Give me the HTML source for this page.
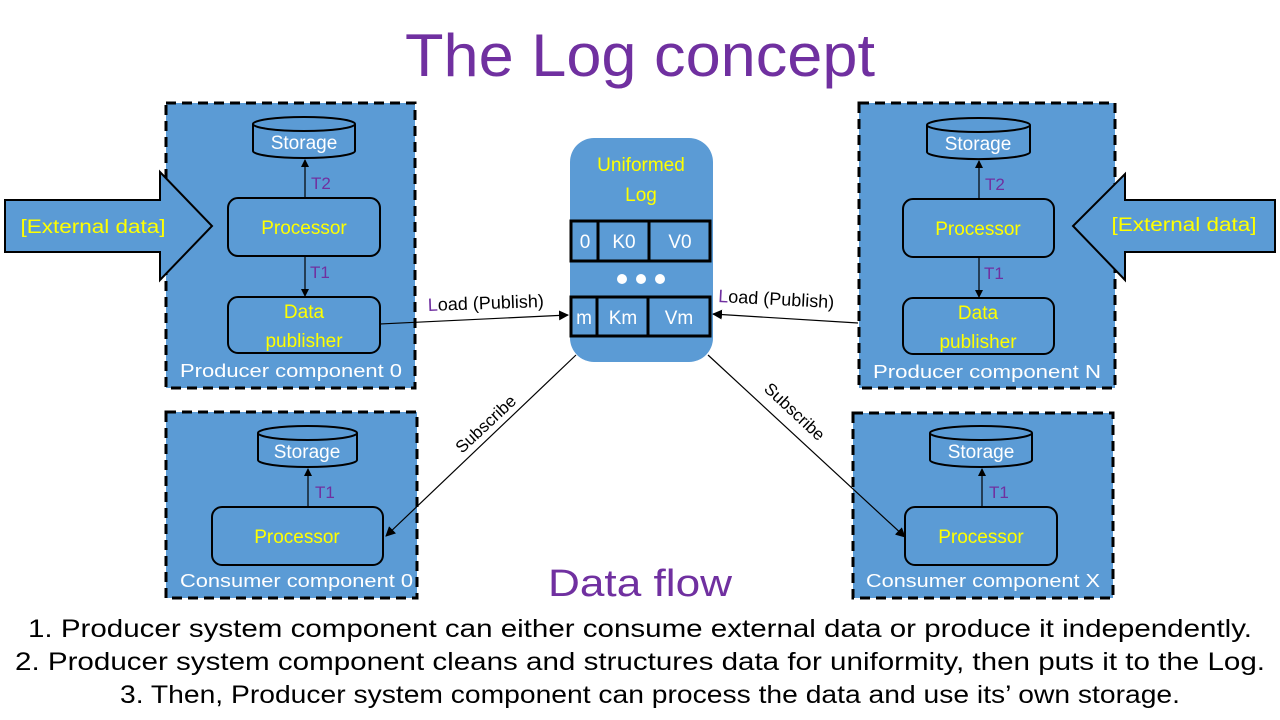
<!DOCTYPE html>
<html><head><meta charset="utf-8"><style>
html,body{margin:0;padding:0;background:#fff;}
svg{display:block;font-family:"Liberation Sans",sans-serif;}
</style></head><body>
<svg width="1280" height="720" viewBox="0 0 1280 720" xmlns="http://www.w3.org/2000/svg">
<defs>
<marker id="ah" markerWidth="10" markerHeight="10" refX="9" refY="5" orient="auto" markerUnits="userSpaceOnUse"><path d="M0,0 L10,5 L0,10 z" fill="#000"/></marker>
<marker id="as" markerWidth="8" markerHeight="8" refX="7" refY="4" orient="auto" markerUnits="userSpaceOnUse"><path d="M0,0 L8,4 L0,8 z" fill="#000"/></marker>
</defs>
<text x="640" y="76" text-anchor="middle" font-size="60" fill="#7030A0" textLength="470" lengthAdjust="spacingAndGlyphs">The Log concept</text>

<!-- Producer 0 -->
<rect x="166" y="103" width="249" height="285" fill="#5B9BD5" stroke="#000" stroke-width="3" stroke-dasharray="10,6"/>
<path d="M5,200 H160 V172 L212,226 L160,280 V252 H5 Z" fill="#5B9BD5" stroke="#000" stroke-width="2"/>
<text x="93" y="233" text-anchor="middle" font-size="19" fill="#FFFF00" textLength="145" lengthAdjust="spacingAndGlyphs">[External data]</text>
<g>
<path d="M253,124 V151 A51,7 0 0 0 355,151 V124" fill="#5B9BD5" stroke="#000" stroke-width="2"/>
<ellipse cx="304" cy="124" rx="51" ry="7" fill="#5B9BD5" stroke="#000" stroke-width="2"/>
<text x="304" y="149" text-anchor="middle" font-size="19" fill="#fff">Storage</text>
</g>
<line x1="305" y1="198" x2="305" y2="160" stroke="#000" stroke-width="1.2" marker-end="url(#as)"/>
<text x="311" y="189" font-size="17" fill="#7030A0">T2</text>
<rect x="228" y="198" width="152" height="58" rx="10" fill="#5B9BD5" stroke="#000" stroke-width="2"/>
<text x="304" y="234" text-anchor="middle" font-size="19" fill="#FFFF00">Processor</text>
<line x1="305" y1="256" x2="305" y2="296" stroke="#000" stroke-width="1.2" marker-end="url(#as)"/>
<text x="310" y="278" font-size="17" fill="#7030A0">T1</text>
<rect x="228" y="297" width="152" height="56" rx="10" fill="#5B9BD5" stroke="#000" stroke-width="2"/>
<text x="304" y="318" text-anchor="middle" font-size="19" fill="#FFFF00">Data</text>
<text x="304" y="347" text-anchor="middle" font-size="19" fill="#FFFF00">publisher</text>
<text x="180" y="377" font-size="18" fill="#fff" textLength="222" lengthAdjust="spacingAndGlyphs">Producer component 0</text>

<!-- Producer N -->
<rect x="859" y="103" width="256" height="285" fill="#5B9BD5" stroke="#000" stroke-width="3" stroke-dasharray="10,6"/>
<path d="M1275,200 H1125 V174 L1073,226 L1125,280 V252 H1275 Z" fill="#5B9BD5" stroke="#000" stroke-width="2"/>
<text x="1184" y="231" text-anchor="middle" font-size="19" fill="#FFFF00" textLength="145" lengthAdjust="spacingAndGlyphs">[External data]</text>
<g>
<path d="M927,125 V152 A51,7 0 0 0 1030,152 V125" fill="#5B9BD5" stroke="#000" stroke-width="2"/>
<ellipse cx="978.5" cy="125" rx="51.5" ry="7" fill="#5B9BD5" stroke="#000" stroke-width="2"/>
<text x="978" y="150" text-anchor="middle" font-size="19" fill="#fff">Storage</text>
</g>
<line x1="979" y1="199" x2="979" y2="161" stroke="#000" stroke-width="1.2" marker-end="url(#as)"/>
<text x="985" y="190" font-size="17" fill="#7030A0">T2</text>
<rect x="903" y="199" width="151" height="58" rx="10" fill="#5B9BD5" stroke="#000" stroke-width="2"/>
<text x="978" y="235" text-anchor="middle" font-size="19" fill="#FFFF00">Processor</text>
<line x1="979" y1="257" x2="979" y2="297" stroke="#000" stroke-width="1.2" marker-end="url(#as)"/>
<text x="984" y="279" font-size="17" fill="#7030A0">T1</text>
<rect x="903" y="298" width="151" height="56" rx="10" fill="#5B9BD5" stroke="#000" stroke-width="2"/>
<text x="978" y="319" text-anchor="middle" font-size="19" fill="#FFFF00">Data</text>
<text x="978" y="348" text-anchor="middle" font-size="19" fill="#FFFF00">publisher</text>
<text x="873" y="378" font-size="18" fill="#fff" textLength="228" lengthAdjust="spacingAndGlyphs">Producer component N</text>

<!-- Log -->
<rect x="570" y="138" width="143" height="224" rx="24" fill="#5B9BD5"/>
<text x="641" y="171" text-anchor="middle" font-size="19" fill="#FFFF00">Uniformed</text>
<text x="641" y="201" text-anchor="middle" font-size="19" fill="#FFFF00">Log</text>
<g stroke="#000" stroke-width="3" fill="none">
<rect x="571" y="221" width="139" height="40"/>
<line x1="598" y1="221" x2="598" y2="261"/><line x1="649" y1="221" x2="649" y2="261"/>
<rect x="571" y="297" width="139" height="39"/>
<line x1="597" y1="297" x2="597" y2="336"/><line x1="648" y1="297" x2="648" y2="336"/>
</g>
<g font-size="19" fill="#fff" text-anchor="middle">
<text x="585" y="248">0</text><text x="624" y="248">K0</text><text x="680" y="248">V0</text>
<text x="584" y="324">m</text><text x="623" y="324">Km</text><text x="679" y="324">Vm</text>
</g>
<circle cx="622" cy="279" r="5" fill="#fff"/><circle cx="641" cy="279" r="5" fill="#fff"/><circle cx="660" cy="279" r="5" fill="#fff"/>

<!-- load arrows -->
<line x1="380" y1="324" x2="568" y2="315" stroke="#000" stroke-width="1.2" marker-end="url(#ah)"/>
<text x="428" y="311" font-size="18" fill="#000" transform="rotate(-2 428 311)"><tspan fill="#7030A0">L</tspan>oad (Publish)</text>
<line x1="858" y1="323" x2="713" y2="314" stroke="#000" stroke-width="1.2" marker-end="url(#ah)"/>
<text x="718" y="302" font-size="18" fill="#000" transform="rotate(3 718 302)"><tspan fill="#7030A0">L</tspan>oad (Publish)</text>

<!-- Consumer 0 -->
<rect x="166" y="412" width="251" height="186" fill="#5B9BD5" stroke="#000" stroke-width="3" stroke-dasharray="10,6"/>
<path d="M258,433 V460 A49.5,7 0 0 0 357,460 V433" fill="#5B9BD5" stroke="#000" stroke-width="2"/>
<ellipse cx="307.5" cy="433" rx="49.5" ry="7" fill="#5B9BD5" stroke="#000" stroke-width="2"/>
<text x="307" y="458" text-anchor="middle" font-size="19" fill="#fff">Storage</text>
<line x1="308" y1="507" x2="308" y2="469" stroke="#000" stroke-width="1.2" marker-end="url(#as)"/>
<text x="315" y="498" font-size="17" fill="#7030A0">T1</text>
<rect x="212" y="507" width="171" height="58" rx="10" fill="#5B9BD5" stroke="#000" stroke-width="2"/>
<text x="297" y="543" text-anchor="middle" font-size="19" fill="#FFFF00">Processor</text>
<text x="180" y="587" font-size="18" fill="#fff" textLength="233" lengthAdjust="spacingAndGlyphs">Consumer component 0</text>

<!-- Consumer X -->
<rect x="853" y="413" width="260" height="185" fill="#5B9BD5" stroke="#000" stroke-width="3" stroke-dasharray="10,6"/>
<path d="M930,433 V460 A51,7 0 0 0 1032,460 V433" fill="#5B9BD5" stroke="#000" stroke-width="2"/>
<ellipse cx="981" cy="433" rx="51" ry="7" fill="#5B9BD5" stroke="#000" stroke-width="2"/>
<text x="981" y="458" text-anchor="middle" font-size="19" fill="#fff">Storage</text>
<line x1="982" y1="507" x2="982" y2="469" stroke="#000" stroke-width="1.2" marker-end="url(#as)"/>
<text x="989" y="498" font-size="17" fill="#7030A0">T1</text>
<rect x="905" y="507" width="152" height="58" rx="10" fill="#5B9BD5" stroke="#000" stroke-width="2"/>
<text x="981" y="543" text-anchor="middle" font-size="19" fill="#FFFF00">Processor</text>
<text x="866" y="587" font-size="18" fill="#fff" textLength="234" lengthAdjust="spacingAndGlyphs">Consumer component X</text>

<!-- subscribe (drawn on top) -->
<line x1="576" y1="355" x2="386" y2="536" stroke="#000" stroke-width="1.2" marker-end="url(#ah)"/>
<text x="462" y="454" font-size="17" fill="#000" transform="rotate(-43 462 454)">Subscribe</text>
<line x1="708" y1="355" x2="905" y2="537" stroke="#000" stroke-width="1.2" marker-end="url(#ah)"/>
<text x="763" y="390" font-size="17" fill="#000" transform="rotate(43 763 390)">Subscribe</text>

<text x="640" y="596" text-anchor="middle" font-size="38" fill="#7030A0" textLength="184" lengthAdjust="spacingAndGlyphs">Data flow</text>
<g font-size="25" fill="#000">
<text x="28" y="637" textLength="1224" lengthAdjust="spacingAndGlyphs">1.  Producer system component can either consume external data or produce it independently.</text>
<text x="15" y="670" textLength="1250" lengthAdjust="spacingAndGlyphs">2.  Producer system component cleans and structures data for uniformity, then puts it to the Log.</text>
<text x="120" y="703" textLength="1060" lengthAdjust="spacingAndGlyphs">3.  Then, Producer system component can process the data and use its’ own storage.</text>
</g>
</svg>
</body></html>
